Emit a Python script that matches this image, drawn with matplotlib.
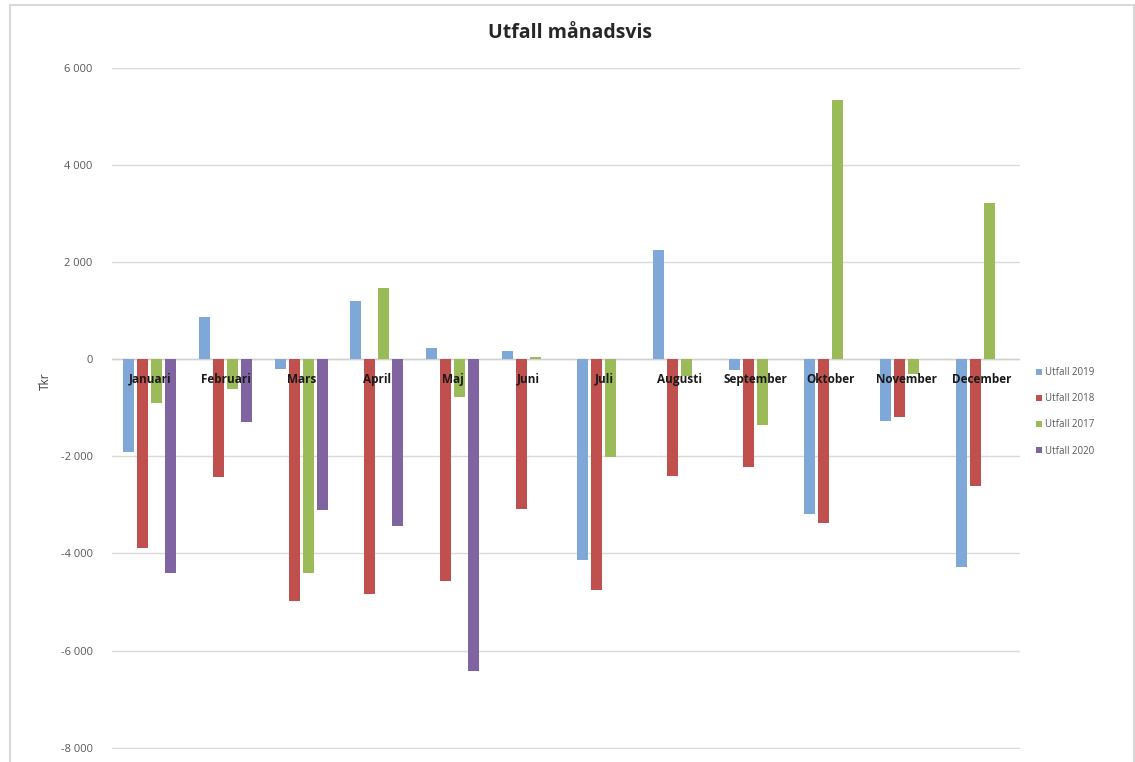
import numpy as np
import matplotlib
matplotlib.use("Agg")
import matplotlib.pyplot as plt
from matplotlib.ticker import FuncFormatter
from matplotlib.patches import Rectangle

# data (Tkr)
months = ["Januari", "Februari", "Mars", "April", "Maj", "Juni", "Juli",
          "Augusti", "September", "Oktober", "November", "December"]
utfall_2019 = [-1910, 860, -210, 1200, 230, 170, -4140, 2240, -220, -3190, -1270, -4290]
utfall_2018 = [-3880, -2420, -4990, -4840, -4570, -3080, -4760, -2400, -2210, -3380, -1180, -2610]
utfall_2017 = [-910, -620, -4400, 1460, -770, 40, -2020, -350, -1360, 5335, -310, 3225]
utfall_2020 = [-4410, -1290, -3110, -3440, -6420, np.nan, np.nan, np.nan, np.nan, np.nan, np.nan, np.nan]

series = [("Utfall 2019", utfall_2019, "#7FA8D8"),
          ("Utfall 2018", utfall_2018, "#C0504D"),
          ("Utfall 2017", utfall_2017, "#9BBB59"),
          ("Utfall 2020", utfall_2020, "#8064A2")]

plt.rcParams['font.family'] = ['Open Sans', 'DejaVu Sans']

fig = plt.figure(figsize=(11.35, 7.62), dpi=100)
fig.patches.append(Rectangle((0.009, -0.01), 0.99, 1.003, transform=fig.transFigure,
                             fill=False, edgecolor="#d9d9d9", linewidth=1.5))
ax = fig.add_axes([0.0987, 0.0170, 0.80, 0.8938])

x = np.arange(len(months))
width = 0.145
step = 0.185
for i, (name, vals, col) in enumerate(series):
    ax.bar(x + (i - 1.5) * step, np.array(vals, dtype=float), width=width,
           color=col, label=name, zorder=2)

ax.set_xlim(-0.5, 11.5)
ax.set_ylim(-8030, 6000)
ax.set_yticks(np.arange(-8000, 6001, 2000))
ax.yaxis.set_major_formatter(FuncFormatter(lambda v, p: f"{int(v):,}".replace(",", " ")))
ax.grid(axis="y", color="#d9d9d9", linewidth=1)
ax.set_axisbelow(True)
ax.axhline(0, color="#d0d0d0", linewidth=1, zorder=1)
ax.set_xticks([])
for s in ax.spines.values():
    s.set_visible(False)
ax.tick_params(axis="y", length=0, pad=14, labelsize=8, labelcolor="#595959")

# month names sit just under the zero line, on top of the bars
for xi, m in zip(x, months):
    ax.annotate(m, (xi, 0), xytext=(0, -20), textcoords="offset pixels",
                ha="center", va="center", fontsize=8.5, fontweight="bold",
                color="#1a1a1a", zorder=5)

ax.set_ylabel("Tkr", fontsize=8.5, color="#404040")
ax.yaxis.set_label_coords(-0.066, 0.54)

fig.text(0.502, 0.957, "Utfall månadsvis", ha="center", va="center",
         fontsize=14, fontweight="bold", color="#262626")

ax.legend(loc="center left", bbox_to_anchor=(1.008, 0.495), frameon=False,
          fontsize=7, handlelength=0.6, handleheight=0.6, handletextpad=0.3,
          labelspacing=1.55, labelcolor="#595959")

fig.savefig("out.png", dpi=100)
